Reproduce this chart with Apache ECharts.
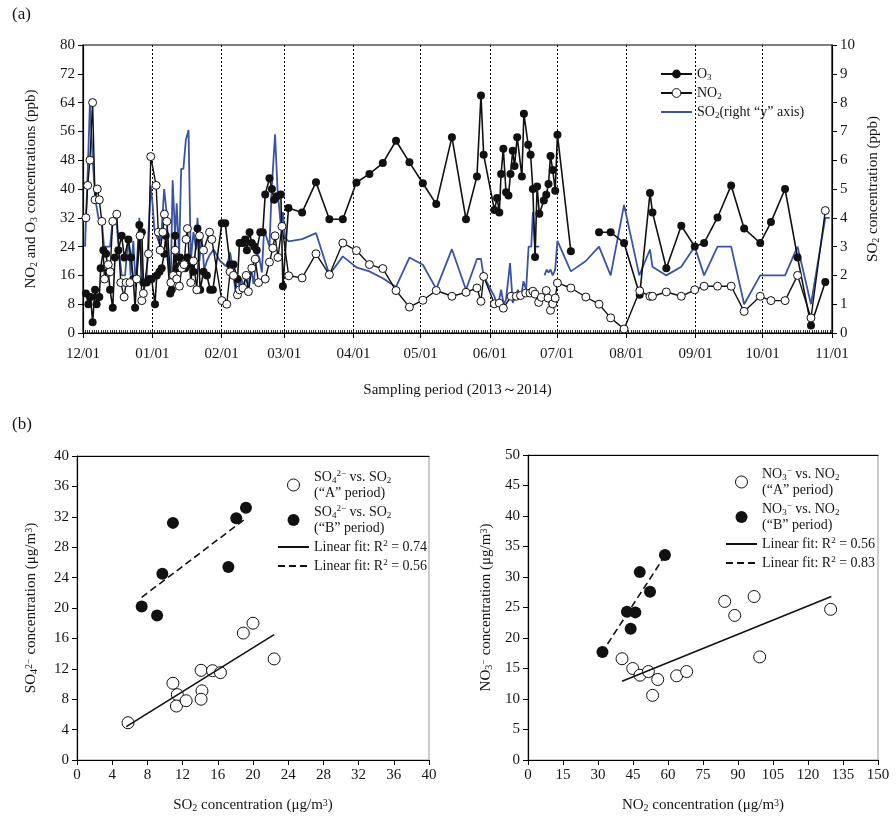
<!DOCTYPE html>
<html>
<head>
<meta charset="utf-8">
<script src="https://cdn.jsdelivr.net/npm/echarts@6/dist/echarts.min.js"></script>
<style>html,body{margin:0;padding:0;background:#fff;}#c{width:896px;height:823px;}</style>
</head>
<body>
<div id="c"></div>
<script>
// ---------- (a) time series: day offsets from 2013-12-01 ----------
const o3Day = [1.3,2.4,3.4,4.3,5.4,6.1,7.3,7.9,9.1,10.3,11.3,12.1,13.3,14.3,15.8,17.3,18.5,20.3,21.5,22.5,23.3,25.2,26.3,27,28.5,29.7,30.7,32.2,33,34.2,35.2,36.3,37,39,39.7,41.2,41.9,43.4,44.6,45.7,46.7,47.9,49.4,51.2,52.4,53.9,55.4,56.9,58.1,62.1,63.6,65.8,67.3,69.1,70,71.5,72.5,73.3,74.5,75.5,76.6,77.7,79.3,80.4,81.5,83.4,84.5,85.5,86.7,88.5,89.4,
  91.9,98,104.2,110.2,116.2,122.3,128.1,134.1,140,146,152,158,165,171.3,176.2,178,179.2,184,185.2,186.2,187,188,189.2,190.3,191.2,192.2,193,194.2,196.3,197.2,199.1,200.2,201.2,202.2,203.1,204.1,206.1,207.2,208.2,209.1,210.1,211.2,212.2,218.2,
  224,
  230.8,236,242,249,253.6,254.7,260.9,267.6,273.6,277.8,283.8,289.9,295.7,302.9,307.7,314,319.6,325.6,332];
const o3Val = [11,8,10,3,12,8,10,18,23,22,17,12,7,21,23,27,21,26,21,15,7,30,28,14,14,15,15,8,16,17,18,22,27,11,12,27,18,21,19,18,21,19,17,29,12,17,16,12,12,30.5,30.5,19,19,15,25,25,26,23,28,25,24,23,28,28,38.5,43,40,37,38,38.5,13,
  34.7,33.5,41.9,31.6,31.6,41.8,44.2,47.2,53.4,47.4,41.6,35.8,54.4,31.6,43.5,66,49.5,34.2,37.5,33.5,44.2,51.2,39.1,38.2,44.2,50.6,46.4,54.4,43.5,60.9,52.3,49.5,40,21.1,40.7,33.1,36.8,38.4,41.4,49.2,45.3,39.5,55.1,22.7,
  null,
  28,28,25,10.6,38.9,33.5,18,29.8,24,25,32.1,41,29,25,30.8,40,21,2.1,14.2];

const no2Day = [1.3,2.1,3.1,4.3,5.4,6.4,7.3,8.4,9.6,11.3,12.1,13.3,15.1,16.9,18.4,19.3,21,24,25.5,26.3,27,29.3,30.3,32.7,33.7,34.5,35.7,36.4,37.5,39.3,40.4,41.2,41.9,43.1,44.2,45.2,46.1,46.7,48.2,49.4,50.9,52.1,53.9,56.6,57.6,62.1,64.3,65.8,67.3,69.1,70,71.5,73,74,75.5,77,78.5,81.5,83.4,84.9,85.9,87.2,89,
  92,98,104.2,110.2,116.2,122.3,128.1,134.1,140,146,152,158,165,171.3,176.2,178,179.2,184,186.2,188,191.5,193.8,195.7,198,199.9,201.2,202.2,203.8,205,207.2,208,209.1,210.1,211.2,212.2,218.2,
  224.9,230.8,236,242,249,253.6,254.7,260.9,267.6,273.6,277.8,283.8,289.9,295.7,302.9,307.7,314,319.6,325.6,332];
const no2Val = [32,41,48,64,37,40,37,31,15,19,17,31,33,14,10,14,14,15,27,9,11,22,49,41,28,23,28,33,31,14,16,23,15,13,18,19,26,29,14,20,12,27,23,28,26,9,8,17,16,10.6,12,12.5,16,11.5,18,20.5,14,15,19.7,23.6,27,21,29.6,
  15.9,15.3,22,16.2,25,22.9,19,17.9,11.8,7.2,9.1,11.8,10.2,11.3,12.5,8.8,15.7,8.1,8.3,6.9,10.2,10.2,10.4,11.1,11.1,11.6,10.8,8.5,9.9,11.8,9.7,6.3,8.1,9.7,13.9,12.5,
  10,8,4.2,1.1,11.7,10.2,10.2,11.4,10.2,12,13,13,13,6,10.2,9,9,16,4.2,34];

const so2Day = [0.9,1.9,3.1,4.3,5.4,6.9,8.4,9.4,12.1,13.3,14.8,16.3,17.3,18.8,20.3,21.3,22.5,23.6,25.2,26.3,27.3,28.5,29.3,30.3,31.2,31.9,33,34.2,35.2,36.3,37.5,38.2,39.3,40.1,41.2,41.9,43,43.9,44.9,46,47.2,48.2,49.4,50.6,51.2,52.1,53.1,54.2,55.4,56.6,58.4,61.3,64.3,65.8,67.3,68.2,69.1,70,70.9,71.8,72.7,74,75.1,76.3,77.7,78.9,80,81,82.2,83.4,84.4,85.9,87,88.5,89.4,90.4,
  92,98,104.2,110.2,116.2,122.3,128.1,134.1,140,146,152,158,165,171.3,176.2,178,179.2,184,185.5,187,188.2,189.2,191,192.2,194.5,196,197,198.2,199.3,200.5,201.2,202.2,204.1,205.2,206.4,207.4,208.2,209.1,210.1,211.2,212.2,218.2,
  224.9,230.8,236,242,248.8,253.6,254.7,260.9,267.6,273.6,277.8,283.8,289.9,295.7,302.9,307.7,314,319.6,325.6,332,334];
const so2Val = [3.0,5.1,8.0,6.1,4.7,4.0,3.9,3.0,3.0,3.95,4.0,2.7,2.0,2.0,3.35,2.0,3.2,1.6,4.0,2.4,1.5,2.0,3.5,5.1,4.4,3.6,3.35,3.1,3.6,5.0,4.1,2.4,2.0,5.3,3.35,4.5,2.7,5.7,5.7,6.7,7.05,2.5,3.5,2.9,4.0,2.5,3.35,2.2,2.5,2.7,2.9,2.5,2.3,2.8,2.1,1.4,2.0,1.6,1.9,1.5,2.0,1.6,2.3,1.7,2.8,2.6,2.1,3.6,3.3,3.0,5.0,6.9,5.0,3.7,4.2,3.3,
  3.18,3.26,3.47,2.02,2.66,2.28,2.14,1.9,1.6,2.62,2.37,1.53,2.91,1.5,2.57,2.57,1.97,1.27,0.92,1.5,0.98,1.16,2.43,1.04,1.5,1.27,1.8,1.5,3.0,3.0,4.2,3.0,3.0,null,2.0,2.2,2.1,2.2,2.0,2.2,3.2,2.14,
  2.5,3.0,2.0,4.45,2.0,2.9,2.3,2.0,2.3,3.0,2.0,3.0,3.0,1.0,2.0,2.0,2.0,3.0,1.0,4.0,4.0];

// ---------- (b) left scatter: SO2 (x) vs SO4 (y) ----------
const so2A = [5.8,10.9,11.4,11.3,12.4,14.1,14.2,14.1,15.4,16.3,18.9,20.0,22.4];
const so4A = [4.9,10.1,8.6,7.1,7.8,11.8,9.1,8.0,11.75,11.5,16.7,18.0,13.3];
const so2B = [7.35,9.1,9.7,10.9,17.2,18.1,19.2];
const so4B = [20.2,19.0,24.5,31.2,25.4,31.8,33.2];
const fitSo2A = [5.6,22.4], fitSo4A = [4.4,16.5];
const fitSo2B = [7.35,19.2], fitSo4B = [21.4,31.8];

// ---------- (b) right scatter: NO2 (x) vs NO3 (y) ----------
const no2A = [40.3,44.9,48.0,51.6,53.4,55.6,63.7,68.0,84.3,88.6,96.9,99.3,129.7];
const no3A = [16.6,15.0,13.9,14.5,10.6,13.2,13.8,14.5,26.0,23.7,26.8,16.9,24.7];
const no2B = [31.9,42.4,44.0,46.0,47.9,52.3,58.7];
const no3B = [17.7,24.3,21.5,24.2,30.8,27.6,33.6];
const fitNo2A = [40.3,130.0], fitNo3A = [12.9,26.8];
const fitNo2B = [31.5,58.7], fitNo3B = [17.5,33.5];

const monthsLabelFmt = v => { const d = new Date(v); return String(d.getMonth()+1).padStart(2,'0') + '/' + String(d.getDate()).padStart(2,'0'); };

const START = new Date(2013, 11, 1).getTime();
const END = new Date(2014, 10, 1).getTime();
const DAY = 86400000;
const ts = (days, vals) => days.map((d, i) => [START + d * DAY, vals[i] == null ? '-' : vals[i]]);
const pairs = (xs, ys) => xs.map((x, i) => [x, ys[i]]);

const FF = '"Liberation Serif", "Times New Roman", serif';
const TC = '#151515';
const rich = fs => ({
  sub: { fontSize: Math.round(fs * 0.66), verticalAlign: 'bottom', fontFamily: FF, color: TC, lineHeight: Math.round(fs*0.7) },
  sup: { fontSize: Math.round(fs * 0.66), verticalAlign: 'top', fontFamily: FF, color: TC, lineHeight: Math.round(fs*0.7) }
});
const axisCommon = {
  axisLine: { show: true, lineStyle: { color: '#000', width: 1.2 } },
  axisTick: { show: true, inside: false, length: 5, lineStyle: { color: '#000' } },
  axisLabel: { fontFamily: FF, fontSize: 15, color: TC },
  splitLine: { show: false },
  nameLocation: 'middle',
  nameTextStyle: { fontFamily: FF, fontSize: 15, color: TC, rich: rich(15) }
};
const legendNames = {
  'O3': 'O{sub|3}',
  'NO2': 'NO{sub|2}',
  'SO2': 'SO{sub|2}(right “y” axis)',
  'SO4A': 'SO{sub|4}{sup|2−} vs. SO{sub|2}\n(“A” period)',
  'SO4B': 'SO{sub|4}{sup|2−} vs. SO{sub|2}\n(“B” period)',
  'SO4fitA': 'Linear fit: R{sup|2} = 0.74',
  'SO4fitB': 'Linear fit: R{sup|2} = 0.56',
  'NO3A': 'NO{sub|3}{sup|−} vs. NO{sub|2}\n(“A” period)',
  'NO3B': 'NO{sub|3}{sup|−} vs. NO{sub|2}\n(“B” period)',
  'NO3fitA': 'Linear fit: R{sup|2} = 0.56',
  'NO3fitB': 'Linear fit: R{sup|2} = 0.83'
};
const legendCommon = {
  orient: 'vertical',
  itemWidth: 31,
  itemHeight: 12,
  selectedMode: false,
  formatter: n => legendNames[n],
  textStyle: { fontFamily: FF, fontSize: 14, color: TC, lineHeight: 16, rich: rich(14) }
};
const hideSym = { opacity: 0 };
const legOpen = { color: '#fff', borderColor: '#111', borderWidth: 1 };

const chart = echarts.init(document.getElementById('c'));
const openCircle = { color: '#fff', borderColor: '#111', borderWidth: 1, opacity: 1 };
const filled = { color: '#111', opacity: 1 };
chart.setOption({
  animation: false,
  backgroundColor: '#fff',
  graphic: [
    { type: 'text', left: 12, top: 6, style: { text: '(a)', font: '17px ' + FF, fill: TC } },
    { type: 'text', left: 12, top: 416, style: { text: '(b)', font: '17px ' + FF, fill: TC } }
  ],
  grid: [
    { left: 83, top: 45, width: 749, height: 288, show: true, borderColor: '#000', borderWidth: 1.2 },
    { left: 77, top: 456, width: 352, height: 304, show: true, borderColor: '#999', borderWidth: 1 },
    { left: 528, top: 455, width: 350, height: 305, show: true, borderColor: '#999', borderWidth: 1 }
  ],
  legend: [
    Object.assign({}, legendCommon, { data: ['O3', {name: 'NO2', itemStyle: legOpen}, {name: 'SO2', itemStyle: hideSym}], left: 655, top: 61, itemGap: 3, itemHeight: 11 }),
    Object.assign({}, legendCommon, { data: [{name:'SO4A', icon:'circle', itemStyle: legOpen}, {name:'SO4B', icon:'circle'}, {name:'SO4fitA', itemStyle: hideSym}, {name:'SO4fitB', itemStyle: hideSym}], left: 272, top: 464, itemGap: 3 }),
    Object.assign({}, legendCommon, { data: [{name:'NO3A', icon:'circle', itemStyle: legOpen}, {name:'NO3B', icon:'circle'}, {name:'NO3fitA', itemStyle: hideSym}, {name:'NO3fitB', itemStyle: hideSym}], left: 720, top: 461, itemGap: 3 })
  ],
  xAxis: [
    Object.assign({}, axisCommon, {
      type: 'time', gridIndex: 0, min: START, max: END, splitNumber: 11,
      axisLabel: Object.assign({}, axisCommon.axisLabel, { formatter: monthsLabelFmt, margin: 14, showMinLabel: true, showMaxLabel: true }),
      splitLine: { show: true, lineStyle: { color: '#000', type: [2, 2], width: 1 } },
      name: 'Sampling period (2013～2014)', nameGap: 50
    }),
    { type: 'value', gridIndex: 0, min: 0, max: 335, interval: 1, position: 'bottom',
      axisLine: { show: false }, axisLabel: { show: false }, splitLine: { show: false },
      axisTick: { show: true, inside: true, length: 3, lineStyle: { color: '#000', width: 0.8 } } },
    Object.assign({}, axisCommon, { type: 'value', gridIndex: 1, min: 0, max: 40, interval: 4,
      name: 'SO{sub|2} concentration (μg/m{sup|3})', nameGap: 38 }),
    { type: 'value', gridIndex: 1, position: 'top', min: 0, max: 40, axisLine: { show: true, lineStyle: { color: '#000' } }, axisTick: { show: false }, axisLabel: { show: false }, splitLine: { show: false } },
    Object.assign({}, axisCommon, { type: 'value', gridIndex: 2, min: 0, max: 150, interval: 15,
      name: 'NO{sub|2} concentration (μg/m{sup|3})', nameGap: 38 }),
    { type: 'value', gridIndex: 2, position: 'top', min: 0, max: 150, axisLine: { show: true, lineStyle: { color: '#000' } }, axisTick: { show: false }, axisLabel: { show: false }, splitLine: { show: false } }
  ],
  yAxis: [
    Object.assign({}, axisCommon, { type: 'value', gridIndex: 0, min: 0, max: 80, interval: 8, position: 'left',
      name: 'NO{sub|2} and O{sub|3} concentrations (ppb)', nameGap: 44 }),
    Object.assign({}, axisCommon, { type: 'value', gridIndex: 0, min: 0, max: 10, interval: 1, position: 'right',
      name: 'SO{sub|2} concentration (ppb)', nameGap: 26 }),
    Object.assign({}, axisCommon, { type: 'value', gridIndex: 1, min: 0, max: 40, interval: 4,
      name: 'SO{sub|4}{sup|2−} concentration (μg/m{sup|3})', nameGap: 38 }),
    Object.assign({}, axisCommon, { type: 'value', gridIndex: 2, min: 0, max: 50, interval: 5,
      name: 'NO{sub|3}{sup|−} concentration (μg/m{sup|3})', nameGap: 34 })
  ],
  series: [
    { name: 'SO2', type: 'line', xAxisIndex: 0, yAxisIndex: 1, data: ts(so2Day, so2Val), symbol: 'none',
      lineStyle: { color: '#3a54a4', width: 1.8 }, itemStyle: { color: '#3a54a4' }, z: 2 },
    { name: 'O3', type: 'line', xAxisIndex: 0, yAxisIndex: 0, data: ts(o3Day, o3Val), symbol: 'circle', symbolSize: 8,
      lineStyle: { color: '#111', width: 1.6 }, itemStyle: filled, z: 3 },
    { name: 'NO2', type: 'line', xAxisIndex: 0, yAxisIndex: 0, data: ts(no2Day, no2Val), symbol: 'circle', symbolSize: 8,
      lineStyle: { color: '#111', width: 1.4 }, itemStyle: openCircle, z: 4 },

    { name: 'SO4A', type: 'scatter', xAxisIndex: 2, yAxisIndex: 2, data: pairs(so2A, so4A), symbolSize: 12, itemStyle: openCircle },
    { name: 'SO4B', type: 'scatter', xAxisIndex: 2, yAxisIndex: 2, data: pairs(so2B, so4B), symbolSize: 12, itemStyle: filled },
    { name: 'SO4fitA', type: 'line', xAxisIndex: 2, yAxisIndex: 2, data: pairs(fitSo2A, fitSo4A), symbol: 'none',
      lineStyle: { color: '#111', width: 1.6 }, itemStyle: { color: '#111' } },
    { name: 'SO4fitB', type: 'line', xAxisIndex: 2, yAxisIndex: 2, data: pairs(fitSo2B, fitSo4B), symbol: 'none',
      lineStyle: { color: '#111', width: 1.6, type: [7, 4] }, itemStyle: { color: '#111' } },

    { name: 'NO3A', type: 'scatter', xAxisIndex: 4, yAxisIndex: 3, data: pairs(no2A, no3A), symbolSize: 12, itemStyle: openCircle },
    { name: 'NO3B', type: 'scatter', xAxisIndex: 4, yAxisIndex: 3, data: pairs(no2B, no3B), symbolSize: 12, itemStyle: filled },
    { name: 'NO3fitA', type: 'line', xAxisIndex: 4, yAxisIndex: 3, data: pairs(fitNo2A, fitNo3A), symbol: 'none',
      lineStyle: { color: '#111', width: 1.6 }, itemStyle: { color: '#111' } },
    { name: 'NO3fitB', type: 'line', xAxisIndex: 4, yAxisIndex: 3, data: pairs(fitNo2B, fitNo3B), symbol: 'none',
      lineStyle: { color: '#111', width: 1.6, type: [7, 4] }, itemStyle: { color: '#111' } }
  ]
});
</script>
</body>
</html>
